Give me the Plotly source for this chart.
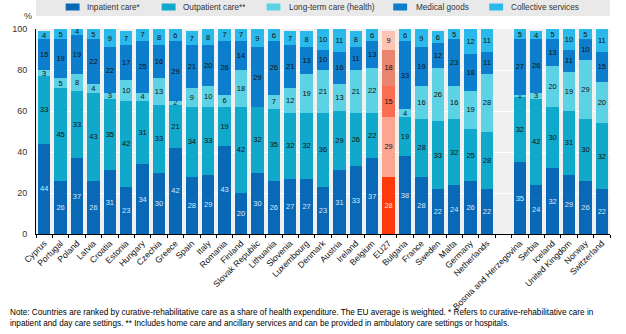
import plotly.graph_objects as go

countries = ["Cyprus", "Portugal", "Poland", "Latvia", "Croatia", "Estonia", "Hungary", "Czechia",
             "Greece", "Spain", "Italy", "Romania", "Finland", "Slovak Republic", "Lithuania",
             "Slovenia", "Luxembourg", "Denmark", "Austria", "Ireland", "Belgium", "EU27",
             "Bulgaria", "France", "Sweden", "Malta", "Germany", "Netherlands", " ",
             "Bosnia and Herzegovina", "Serbia", "Iceland", "United Kingdom", "Norway", "Switzerland"]

inpatient = [44, 26, 37, 26, 31, 23, 34, 30, 42, 28, 29, 43, 20, 30, 26, 27, 27, 23, 31, 33, 37, 28,
             38, 28, 22, 24, 26, 22, None, 35, 24, 32, 29, 26, 22]
outpatient = [33, 45, 33, 43, 35, 42, 31, 33, 21, 34, 33, 19, 42, 32, 35, 32, 32, 36, 29, 26, 22, 29,
              19, 28, 33, 32, 25, 28, None, 32, 42, 30, 31, 30, 32]
longterm = [3, 5, 8, 4, 3, 10, 4, 13, 2, 9, 10, 6, 18, 0, 7, 12, 19, 21, 13, 21, 22, 15,
            4, 16, 26, 16, 19, 28, None, 1, 3, 20, 19, 29, 20]
medical = [15, 19, 19, 22, 22, 17, 25, 16, 29, 21, 20, 26, 14, 29, 26, 21, 13, 10, 16, 11, 13, 18,
           33, 19, 12, 23, 18, 11, None, 27, 26, 13, 11, 10, 15]
collective = [4, 5, 4, 5, 9, 7, 7, 8, 6, 7, 8, 7, 7, 9, 6, 7, 8, 10, 11, 8, 6, 9,
              6, 9, 6, 5, 12, 11, None, 5, 4, 5, 10, 5, 11]

series = [
    ("Inpatient care*", inpatient, "#0A69B6", "#FF3A0A", "#D2E8FB", "#FFE0D6"),
    ("Outpatient care**", outpatient, "#10A9CB", "#FCA692", "#111111", "#111111"),
    ("Long-term care (health)", longterm, "#5DD2E4", "#FB6E52", "#111111", "#111111"),
    ("Medical goods", medical, "#0C7ECD", "#E8846F", "#111111", "#111111"),
    ("Collective services", collective, "#2BB8EA", "#FDC4B6", "#111111", "#111111"),
]

FONT = "Liberation Sans, Arial, sans-serif"

fig = go.Figure()
for name, vals, col, eucol, tcol, eutcol in series:
    colors = [eucol if c == "EU27" else col for c in countries]
    tcolors = [eutcol if c == "EU27" else tcol for c in countries]
    fig.add_trace(go.Bar(
        name=name, x=countries, y=vals,
        marker=dict(color=colors, line=dict(width=0)),
        text=[(str(v) if v else "") for v in vals],
        textposition="inside", insidetextanchor="middle", textangle=0,
        textfont=dict(size=7.5, color=tcolors, family=FONT),
        showlegend=False, hoverinfo="skip",
    ))

# manual legend (pixel positions converted to paper coords)
L, R, T, B = 30, 610, 29, 234
def px(xp):
    return (xp - L) / (R - L)
def py(yp):
    return (B - yp) / (B - T)

shapes = [dict(type="rect", xref="paper", yref="paper", x0=px(30), x1=px(610), y0=py(16), y1=py(0),
               fillcolor="#E9E9E9", line=dict(width=0), layer="below")]
annotations = []
leg_pos = [(60, 80), (157, 177), (263, 284), (391, 412), (488, 508)]
for (sx, tx), (name, vals, col, *_r) in zip(leg_pos, series):
    shapes.append(dict(type="rect", xref="paper", yref="paper", x0=px(sx), x1=px(sx + 14),
                       y0=py(10.5), y1=py(3.5), fillcolor=col, line=dict(width=0)))
    annotations.append(dict(text=name, xref="paper", yref="paper", x=px(tx), y=py(7.5),
                            xanchor="left", yanchor="middle", showarrow=False,
                            font=dict(size=8.2, color="#333333", family=FONT)))

annotations.append(dict(text="%", xref="paper", yref="paper", x=px(22), y=py(16),
                        xanchor="center", yanchor="middle", showarrow=False,
                        font=dict(size=9, color="#333333", family=FONT)))
annotations.append(dict(
    text="Note: Countries are ranked by curative-rehabilitative care as a share of health expenditure. "
         "The EU average is weighted. * Refers to curative-rehabilitative care in<br>"
         "inpatient and day care settings. ** Includes home care and ancillary services and can be "
         "provided in ambulatory care settings or hospitals.",
    xref="paper", yref="paper", x=px(2), y=py(306), xanchor="left", yanchor="top",
    align="left", showarrow=False, font=dict(size=8.2, color="#000000", family=FONT)))

fig.update_layout(
    width=626, height=334,
    margin=dict(l=30, r=16, t=29, b=100),
    barmode="stack", bargap=0.24,
    paper_bgcolor="white", plot_bgcolor="#F0F0F0",
    font=dict(family=FONT, size=9, color="#333333"),
    shapes=shapes, annotations=annotations,
    uniformtext=dict(minsize=7, mode="show"),
)
fig.update_xaxes(
    type="category", categoryorder="array", categoryarray=countries,
    tickangle=-45, tickfont=dict(size=8.6, color="#111111", family=FONT),
    showline=True, linecolor="#000000", linewidth=1,
    ticks="outside", tickson="boundaries", ticklen=3, tickcolor="#000000",
    showgrid=False,
)
fig.update_yaxes(
    range=[0, 100], tickvals=[0, 20, 40, 60, 80, 100],
    showgrid=True, gridcolor="#FFFFFF", gridwidth=1,
    showline=True, linecolor="#000000", linewidth=1,
    zeroline=False, ticks="", ticklabelstandoff=6,
    tickfont=dict(size=9, color="#333333", family=FONT),
)

fig.write_html("out.html")
